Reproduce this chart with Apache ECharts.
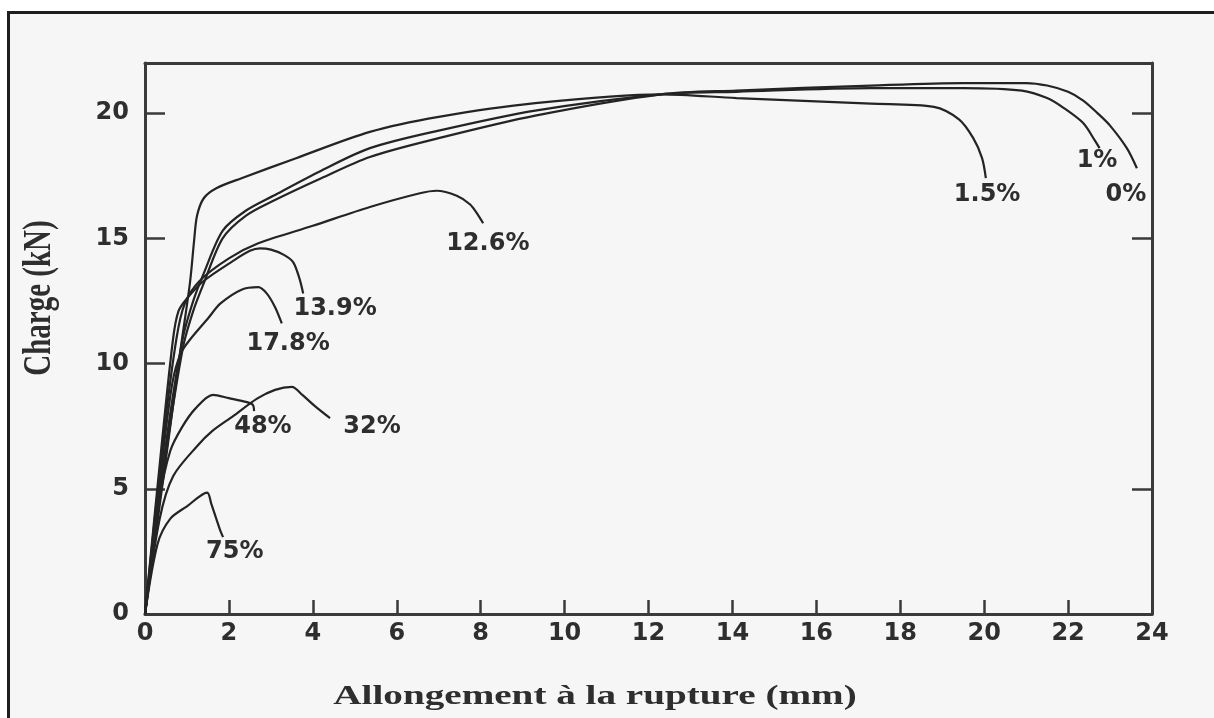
<!DOCTYPE html>
<html>
<head>
<meta charset="utf-8">
<title>Charge – allongement</title>
<script src="https://cdn.jsdelivr.net/npm/echarts@6/dist/echarts.min.js"></script>
<style>
  html, body { margin: 0; padding: 0; background: #ffffff; }
  #chart { width: 1214px; height: 718px; }
</style>
</head>
<body>
<div id="chart"></div>
<script>
// Load–elongation curves, one per substitution rate: [elongation (mm), load (kN)]
const curve0 = [[0,0],[0.5,6.4],[0.9,10.6],[1.15,12.1],[1.4,13.2],[1.85,15.0],[2.4,15.9],[3.06,16.5],[4.2,17.4],[5.36,18.25],[7,19.0],[9.3,19.9],[12.3,20.75],[14.1,20.9],[17.3,21.1],[19.5,21.2],[21.0,21.2],[21.5,21.1],[22.0,20.85],[22.36,20.5],[22.7,20.0],[23.0,19.5],[23.4,18.6],[23.64,17.8]];
const curve1 = [[0,0],[0.5,6.8],[0.9,11.0],[1.15,12.5],[1.4,13.6],[1.85,15.3],[2.4,16.1],[3.06,16.7],[4.2,17.7],[5.36,18.6],[7,19.3],[9.3,20.1],[12.3,20.75],[14.1,20.85],[17.3,21.0],[19.5,21.0],[20.9,20.9],[21.5,20.6],[21.9,20.2],[22.36,19.6],[22.64,18.9],[22.75,18.6]];
const curve15 = [[0,0],[0.5,6.2],[0.85,10.6],[1.07,13.2],[1.17,14.9],[1.24,15.9],[1.4,16.6],[1.7,17.0],[2.3,17.4],[3.6,18.2],[5.36,19.25],[7,19.85],[9.3,20.4],[12.3,20.75],[14.1,20.6],[17.3,20.38],[18.8,20.25],[19.4,19.75],[19.74,19.0],[19.95,18.2],[20.04,17.4]];
const curve126 = [[0,0],[0.45,7.2],[0.75,11.0],[0.95,12.4],[1.3,13.3],[2.0,14.2],[2.7,14.8],[4.0,15.5],[5.36,16.25],[6.55,16.8],[6.95,16.9],[7.43,16.7],[7.75,16.35],[7.95,15.9],[8.06,15.6]];
const curve139 = [[0,0],[0.4,6.8],[0.67,11.0],[0.8,12.1],[1.0,12.6],[1.4,13.3],[2.1,14.1],[2.5,14.5],[2.74,14.6],[3.0,14.55],[3.3,14.35],[3.53,14.05],[3.68,13.4],[3.77,12.8]];
const curve178 = [[0,0],[0.4,6.0],[0.65,9.2],[0.85,10.4],[1.07,10.95],[1.5,11.8],[1.8,12.4],[2.3,12.95],[2.7,13.05],[2.9,12.8],[3.1,12.25],[3.26,11.6]];
const curve48 = [[0,0],[0.35,4.6],[0.6,6.5],[0.88,7.45],[1.2,8.2],[1.62,8.75],[2.0,8.62],[2.43,8.46],[2.57,8.35],[2.6,8.1]];
const curve32 = [[0,0],[0.35,3.8],[0.67,5.5],[1.24,6.7],[1.6,7.3],[2.1,7.9],[2.67,8.6],[3.1,8.95],[3.5,9.07],[3.75,8.75],[4.05,8.3],[4.41,7.82]];
const curve75 = [[0,0],[0.3,2.8],[0.6,3.8],[1.0,4.3],[1.48,4.85],[1.58,4.4],[1.7,3.8],[1.79,3.35],[1.86,3.07]];

const curves = [curve0, curve1, curve15, curve126, curve139, curve178, curve48, curve32, curve75];
const curveNames = ['0%', '1%', '1.5%', '12.6%', '13.9%', '17.8%', '48%', '32%', '75%'];

// Where each rate is written next to its curve
const labelX = [23.38, 22.69, 20.07, 8.17, 4.53, 3.41, 2.81, 5.41, 2.14];
const labelY = [16.72, 18.08, 16.72, 14.8, 12.17, 10.77, 7.46, 7.46, 2.47];

// Axis ticks
const xTickValues = [0, 2, 4, 6, 8, 10, 12, 14, 16, 18, 20, 22, 24];
const yTickValues = [0, 5, 10, 15, 20];
const yRightTicks = [5, 15, 20];

const ink = '#242424';
const frame = '#3a3a3a';

const chart = echarts.init(document.getElementById('chart'), null, { renderer: 'canvas' });

const lineSeries = curves.map((pts, i) => ({
  name: curveNames[i],
  type: 'line',
  data: pts,
  xAxisIndex: 0,
  yAxisIndex: 0,
  showSymbol: false,
  smooth: 0.3,
  silent: true,
  lineStyle: { color: ink, width: 2.2 },
  z: 3
}));

const labelSeries = {
  type: 'scatter',
  xAxisIndex: 0,
  yAxisIndex: 0,
  symbol: 'circle',
  symbolSize: 1,
  silent: true,
  itemStyle: { color: 'rgba(0,0,0,0)' },
  data: curveNames.map((n, i) => ({ name: n, value: [labelX[i], labelY[i]] })),
  label: {
    show: true,
    position: 'inside',
    formatter: '{b}',
    color: '#2e2e2e',
    opacity: 1,
    fontFamily: 'DejaVu Sans',
    fontWeight: 'bold',
    fontSize: 24
  },
  z: 4
};

chart.setOption({
  animation: false,
  backgroundColor: '#ffffff',
  grid: { left: 145, right: 62, top: 63, bottom: 104, containLabel: false },
  graphic: [
    { type: 'rect', z: -10, silent: true,
      shape: { x: 8, y: 12, width: 1206, height: 706 },
      style: { fill: '#f6f6f6' } },
    { type: 'line', z: 10, silent: true,
      shape: { x1: 7, y1: 12.5, x2: 1214, y2: 12.5 },
      style: { stroke: '#1e1e1e', lineWidth: 3 } },
    { type: 'line', z: 10, silent: true,
      shape: { x1: 8.5, y1: 11, x2: 8.5, y2: 718 },
      style: { stroke: '#1e1e1e', lineWidth: 3 } },
    { type: 'text', z: 10, silent: true,
      x: 595, y: 697, scaleX: 1.45, scaleY: 1,
      style: { text: 'Allongement à la rupture (mm)', font: 'bold 27px "Liberation Serif"',
               fill: '#2e2e2e', align: 'center', verticalAlign: 'middle',
               textAlign: 'center', textVerticalAlign: 'middle' } },
    { type: 'text', z: 10, silent: true,
      x: 40, y: 298, rotation: Math.PI / 2, scaleX: 1, scaleY: 1.35,
      style: { text: 'Charge (kN)', font: 'bold 29px "Liberation Serif"',
               fill: '#2e2e2e', align: 'center', verticalAlign: 'middle',
               textAlign: 'center', textVerticalAlign: 'middle' } }
  ],
  xAxis: [
    {
      type: 'value', position: 'bottom', min: 0, max: 24, interval: 2,
      axisLine: { show: true, onZero: false, lineStyle: { color: frame, width: 3 } },
      axisTick: { show: true, inside: true, length: 14, lineStyle: { color: frame, width: 2.5 },
                  customValues: xTickValues },
      axisLabel: { show: true, margin: 8, color: '#2e2e2e', fontFamily: 'DejaVu Sans',
                   fontWeight: 'bold', fontSize: 24, customValues: xTickValues },
      splitLine: { show: false }
    },
    {
      type: 'value', position: 'top', min: 0, max: 24,
      axisLine: { show: true, onZero: false, lineStyle: { color: frame, width: 3 } },
      axisTick: { show: false }, axisLabel: { show: false }, splitLine: { show: false }
    }
  ],
  yAxis: [
    {
      type: 'value', position: 'left', min: 0, max: 22, interval: 5,
      axisLine: { show: true, onZero: false, lineStyle: { color: frame, width: 3 } },
      axisTick: { show: true, inside: true, length: 20, lineStyle: { color: frame, width: 2.5 },
                  customValues: yTickValues },
      axisLabel: { show: true, margin: 16, color: '#2e2e2e', fontFamily: 'DejaVu Sans',
                   fontWeight: 'bold', fontSize: 24, customValues: yTickValues },
      splitLine: { show: false }
    },
    {
      type: 'value', position: 'right', min: 0, max: 22,
      axisLine: { show: true, onZero: false, lineStyle: { color: frame, width: 3 } },
      axisTick: { show: true, inside: true, length: 20, lineStyle: { color: frame, width: 2.5 },
                  customValues: yRightTicks },
      axisLabel: { show: false }, splitLine: { show: false }
    }
  ],
  series: [...lineSeries, labelSeries]
});
</script>
</body>
</html>
